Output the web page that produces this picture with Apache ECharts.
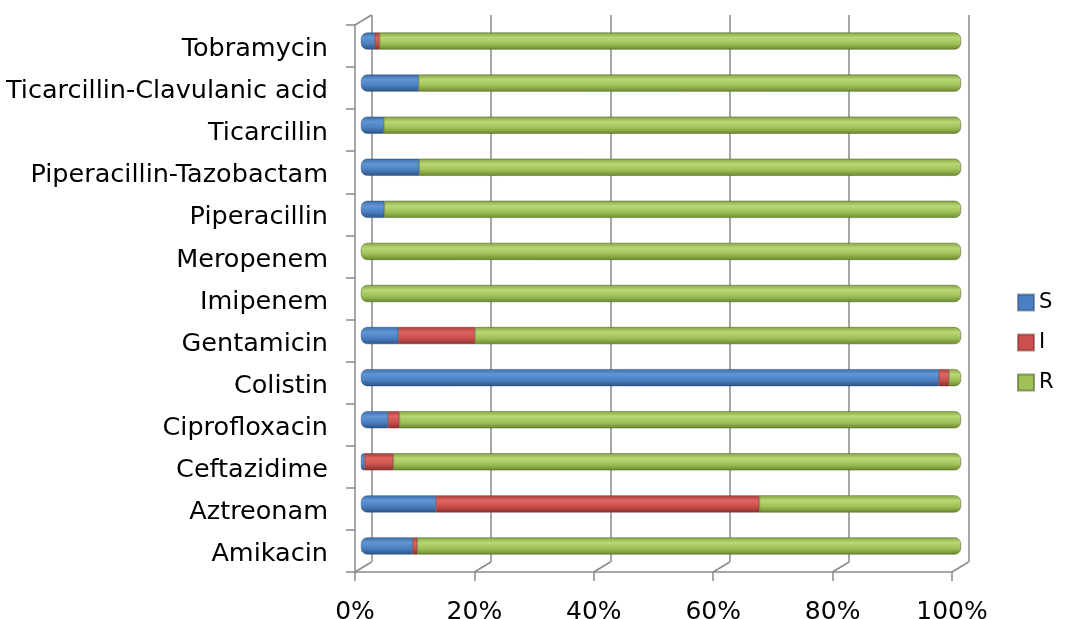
<!DOCTYPE html>
<html>
<head>
<meta charset="utf-8">
<script src="https://cdn.jsdelivr.net/npm/echarts@6/dist/echarts.min.js"></script>
<style>
  html, body { margin: 0; padding: 0; background: #ffffff; }
  #chart { width: 1086px; height: 619px; }
</style>
</head>
<body>
<div id="chart"></div>
<script>
// Antibiotic susceptibility profile (percent of isolates), bottom to top
const categories = [
  'Amikacin', 'Aztreonam', 'Ceftazidime', 'Ciprofloxacin', 'Colistin',
  'Gentamicin', 'Imipenem', 'Meropenem', 'Piperacillin',
  'Piperacillin-Tazobactam', 'Ticarcillin', 'Ticarcillin-Clavulanic acid', 'Tobramycin'
];
const susceptible  = [8.6, 12.5, 0.6, 4.5, 96.3, 6.2, 0, 0, 3.9, 9.7, 3.8, 9.6, 2.3];
const intermediate = [0.8, 53.9, 4.8, 1.9, 1.7, 12.8, 0, 0, 0, 0, 0, 0, 0.8];
const resistant    = [90.6, 33.6, 94.6, 93.6, 2.0, 81.0, 100, 100, 96.1, 90.3, 96.2, 90.4, 96.9];
const percentTicks = [0, 20, 40, 60, 80, 100];

// Layout: front frame, back wall (shifted by the depth offset) and the bar plane in between
const W = 1086, H = 619;
const front = { left: 355, top: 25, width: 597, height: 547 };
const depth = { dx: 16.5, dy: -10 };
const back = { left: front.left + depth.dx, top: front.top + depth.dy, width: front.width, height: front.height };
const barPlane = { left: 361, top: 20, width: 600, height: 547 };
const lineGrey = '#8a8a8a';
const fontFamily = '"DejaVu Sans", sans-serif';

function cylinder(dark, light, mid, edge) {
  return new echarts.graphic.LinearGradient(0, 0, 0, 1, [
    { offset: 0, color: dark },
    { offset: 0.3, color: light },
    { offset: 0.65, color: mid },
    { offset: 1, color: edge }
  ]);
}
const fills = {
  S: cylinder('#3d6ca8', '#6196d6', '#4a7fc1', '#2c5488'),
  I: cylinder('#a63f3c', '#e06560', '#c9504c', '#8c302d'),
  R: cylinder('#86a544', '#b8d873', '#9fc158', '#6a8a2c')
};
const R_CAP = 6;

// Round the visible ends of each stacked row; empty segments get no outline
function rowItems(values, key) {
  return values.map((v, i) => {
    const segs = [susceptible[i], intermediate[i], resistant[i]];
    const idx = { S: 0, I: 1, R: 2 }[key];
    const firstNonZero = segs.findIndex(s => s > 0);
    let lastNonZero = -1;
    segs.forEach((s, k) => { if (s > 0) lastNonZero = k; });
    const r = [0, 0, 0, 0];
    if (idx === firstNonZero) { r[0] = R_CAP; r[3] = R_CAP; }
    if (idx === lastNonZero) { r[1] = R_CAP; r[2] = R_CAP; }
    const style = { borderRadius: r };
    if (v <= 0) style.borderWidth = 0;
    return { value: v, itemStyle: style };
  });
}

// Fixed-position grid; labels may sit close to the canvas edge
function gridBox(g) {
  return {
    left: g.left, top: g.top, right: W - g.left - g.width, bottom: H - g.top - g.height,
    containLabel: false, outerBoundsMode: 'none'
  };
}

const chart = echarts.init(document.getElementById('chart'), null, { renderer: 'canvas' });

const option = {
  backgroundColor: '#ffffff',
  animation: false,
  grid: [gridBox(front), gridBox(back), gridBox(barPlane)],
  xAxis: [
    {
      gridIndex: 0, type: 'value', min: 0, max: 100, interval: 20,
      axisLine: { show: true, lineStyle: { color: lineGrey, width: 1.5 } },
      axisTick: { show: true, length: 9, lineStyle: { color: lineGrey, width: 1.5 } },
      splitLine: { show: false },
      axisLabel: {
        formatter: v => percentTicks.includes(v) ? v + '%' : '',
        fontSize: 25, color: '#000', fontFamily, margin: 28
      }
    },
    {
      gridIndex: 1, type: 'value', min: 0, max: 100, interval: 20,
      axisLine: { show: false }, axisTick: { show: false }, axisLabel: { show: false },
      splitLine: { show: true, lineStyle: { color: lineGrey, width: 1.5 } }
    },
    {
      gridIndex: 2, type: 'value', min: 0, max: 100, show: false
    }
  ],
  yAxis: [
    {
      gridIndex: 0, type: 'category', data: categories,
      axisLine: { show: true, lineStyle: { color: lineGrey, width: 1.5 } },
      axisTick: { show: true, length: 9, lineStyle: { color: lineGrey, width: 1.5 } },
      axisLabel: {
        color: '#000', margin: 27,
        formatter: v => '{n|' + v + '}',
        rich: { n: { fontSize: 25.5, color: '#000', fontFamily, padding: [7, 0, 0, 0] } }
      },
      splitLine: { show: false }
    },
    {
      gridIndex: 1, type: 'category', data: categories, show: false
    },
    {
      gridIndex: 2, type: 'category', data: categories, show: false
    }
  ],
  legend: {
    orient: 'vertical', left: 1012, top: 287,
    itemWidth: 16, itemHeight: 16, itemGap: 19,
    icon: 'rect',
    textStyle: { fontSize: 21, color: '#000', fontFamily },
    data: [
      { name: 'S', itemStyle: { color: '#4a7fc1' } },
      { name: 'I', itemStyle: { color: '#c9504c' } },
      { name: 'R', itemStyle: { color: '#9fc158' } }
    ]
  },
  series: [
    { name: 'S', type: 'bar', stack: 'total', xAxisIndex: 2, yAxisIndex: 2, barWidth: 17,
      itemStyle: { color: fills.S, borderColor: 'rgba(40,70,110,0.5)', borderWidth: 0.5 },
      data: rowItems(susceptible, 'S') },
    { name: 'I', type: 'bar', stack: 'total', xAxisIndex: 2, yAxisIndex: 2, barWidth: 17,
      itemStyle: { color: fills.I, borderColor: 'rgba(110,40,40,0.5)', borderWidth: 0.5 },
      data: rowItems(intermediate, 'I') },
    { name: 'R', type: 'bar', stack: 'total', xAxisIndex: 2, yAxisIndex: 2, barWidth: 17,
      itemStyle: { color: fills.R, borderColor: 'rgba(80,100,40,0.6)', borderWidth: 0.5 },
      data: rowItems(resistant, 'R') }
  ]
};

chart.setOption(option);

// Depth edges joining the front frame to the back wall
const edges = [];
const floorFront = front.top + front.height;
const floorBack = back.top + back.height;
percentTicks.forEach(v => {
  const xf = chart.convertToPixel({ xAxisIndex: 0 }, v);
  const xb = chart.convertToPixel({ xAxisIndex: 1 }, v);
  edges.push({ type: 'line', shape: { x1: xf, y1: floorFront, x2: xb, y2: floorBack },
    style: { stroke: lineGrey, lineWidth: 1.5 }, silent: true });
});
const x0f = chart.convertToPixel({ xAxisIndex: 0 }, 0);
const x0b = chart.convertToPixel({ xAxisIndex: 1 }, 0);
edges.push({ type: 'line', shape: { x1: x0f, y1: front.top, x2: x0b, y2: back.top },
  style: { stroke: lineGrey, lineWidth: 1.5 }, silent: true });
chart.setOption({ graphic: edges });
</script>
</body>
</html>
